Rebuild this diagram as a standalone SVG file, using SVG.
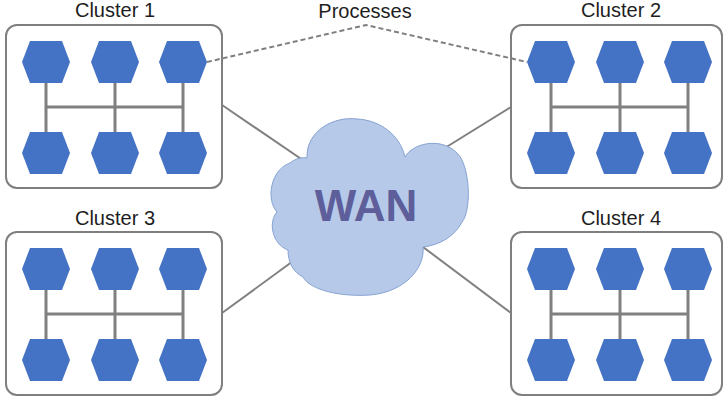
<svg xmlns="http://www.w3.org/2000/svg" xmlns:xlink="http://www.w3.org/1999/xlink" width="724" height="398" viewBox="0 0 724 398">
  <style>
    .label { font-family: "Liberation Sans", Arial, sans-serif; font-size: 20px; fill: #1e1e1e; text-anchor: middle; }
    .frame { fill: #ffffff; stroke: #7f7f7f; stroke-width: 2; }
    .bus { stroke: #808080; stroke-width: 3; fill: none; }
    .hex { fill: #4472c4; }
    .link { stroke: #808080; stroke-width: 2; fill: none; }
    .dash { stroke: #7f7f7f; stroke-width: 2; fill: none; stroke-dasharray: 5 3; }
    .cloud { fill: #b6c9e8; stroke: #86a3d3; stroke-width: 1; }
    .wan { font-family: "Liberation Sans", Arial, sans-serif; font-size: 44px; font-weight: bold; fill: #5d5e9a; text-anchor: middle; }
  </style>
  <defs>
    <polygon id="hexagon" class="hex" points="-24,0 -16,-21 16,-21 24,0 16,21 -16,21"/>
    <!-- six processes joined by a shared bus, positioned from the frame's top-left -->
    <g id="processes">
      <path class="bus" d="M40,58 V107 M109,58 V107 M177,58 V107 M40,82 H177"/>
      <use xlink:href="#hexagon" x="40" y="37"/>
      <use xlink:href="#hexagon" x="109" y="37"/>
      <use xlink:href="#hexagon" x="177" y="37"/>
      <use xlink:href="#hexagon" x="40" y="128"/>
      <use xlink:href="#hexagon" x="109" y="128"/>
      <use xlink:href="#hexagon" x="177" y="128"/>
    </g>
  </defs>

  <rect width="724" height="398" fill="#ffffff"/>

  <g id="cluster1">
    <text class="label" x="115" y="17">Cluster 1</text>
    <rect class="frame" x="6" y="25" width="216" height="163" rx="11"/>
    <use xlink:href="#processes" x="6" y="25"/>
  </g>

  <g id="cluster2">
    <text class="label" x="621" y="17">Cluster 2</text>
    <rect class="frame" x="511" y="25" width="211" height="163" rx="11"/>
    <use xlink:href="#processes" x="511" y="25"/>
  </g>

  <g id="cluster3">
    <text class="label" x="115" y="225">Cluster 3</text>
    <rect class="frame" x="6" y="232" width="216" height="163" rx="11"/>
    <use xlink:href="#processes" x="6" y="232"/>
  </g>

  <g id="cluster4">
    <text class="label" x="621" y="225">Cluster 4</text>
    <rect class="frame" x="511" y="232" width="211" height="163" rx="11"/>
    <use xlink:href="#processes" x="511" y="232"/>
  </g>

  <!-- links between clusters and the WAN, plus the process callout -->
  <g id="connectors">
    <line class="link" x1="222" y1="105" x2="310" y2="165"/>
    <line class="link" x1="511" y1="107" x2="440" y2="151"/>
    <line class="link" x1="222" y1="313" x2="300" y2="256"/>
    <line class="link" x1="511" y1="313" x2="415" y2="241"/>
    <polyline class="dash" points="207,62 366,25 527,62"/>
  </g>

  <g id="processes-label">
    <text class="label" x="365" y="18">Processes</text>
  </g>

  <g id="wan">
    <path class="cloud" d="M288,250 C272,244 268,222 277,212 C266,200 270,170 290,163 C296,158 303,157 307,158 C306,130 335,116 357,119 C380,120 400,135 405,157 C412,144 440,136 457,153 C470,165 472,210 462,222 C455,236 440,245 423,247 C425,268 405,292 370,295 C340,297 310,290 303,277 C293,272 288,262 288,250 Z"/>
    <text class="wan" x="366" y="221">WAN</text>
  </g>
</svg>
